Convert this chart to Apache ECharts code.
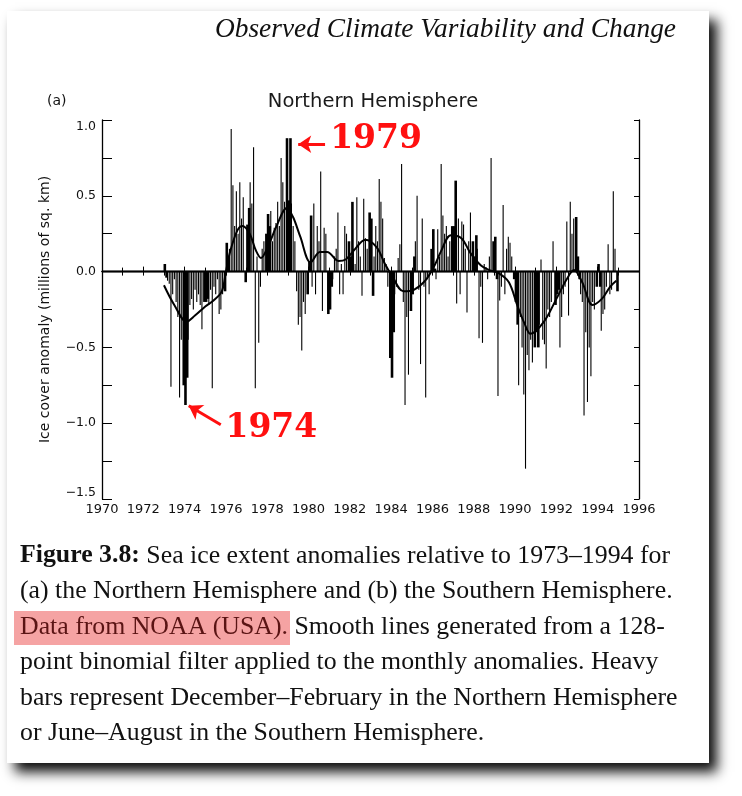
<!DOCTYPE html>
<html><head><meta charset="utf-8">
<script src="https://cdn.jsdelivr.net/npm/echarts/dist/echarts.min.js"></script>
<style>html,body{margin:0;padding:0;background:#fff}#c{width:742px;height:796px}</style>
</head><body><div id="c"></div>
<script>
// ---- Data (millions of sq. km) ----
const nh1973 = [0.05, -0.04, -0.06, -0.08, -0.76, -0.15, -0.05, -0.20, -0.30, -0.83, -0.45, -0.75];
const nh1974 = [-0.88, -0.70, -0.45, -0.22, -0.18, -0.25, -0.12, -0.20, -0.15, -0.22, -0.38, -0.20];
const nh1975 = [-0.20, -0.18, -0.22, -0.12, -0.77, -0.10, -0.15, -0.05, -0.28, -0.25, -0.15, -0.13];
const nh1976 = [0.19, 0.07, 0.15, 0.94, 0.57, 0.30, 0.53, 0.25, 0.59, 0.35, 0.49, -0.07];
const nh1977 = [0.31, 0.42, 0.59, 0.45, 0.82, -0.77, 0.10, -0.47, -0.10, 0.15, 0.20, 0.25];
const nh1978 = [0.38, 0.30, 0.40, 0.20, 0.29, 0.32, 0.46, 0.30, 0.75, 0.59, 0.46, 0.88];
const nh1979 = [0.47, 0.88, 0.45, 0.30, 0.20, -0.13, -0.35, -0.30, -0.52, -0.20, -0.28, -0.15];
const nh1980 = [0.07, 0.37, -0.10, 0.45, -0.15, 0.30, 0.20, 0.66, -0.26, 0.29, 0.25, -0.28];
const nh1981 = [-0.25, -0.10, -0.05, 0.10, 0.15, 0.39, -0.15, 0.05, -0.15, 0.30, 0.25, 0.20];
const nh1982 = [0.10, 0.46, 0.15, 0.05, 0.49, 0.20, 0.10, -0.16, 0.48, 0.22, 0.15, 0.39];
const nh1983 = [0.35, -0.16, 0.10, 0.30, 0.20, 0.61, 0.46, 0.35, 0.09, 0.05, -0.10, -0.57];
const nh1984 = [-0.70, -0.40, -0.15, -0.10, 0.09, 0.18, 0.71, -0.20, -0.88, -0.30, -0.68, -0.26];
const nh1985 = [-0.15, 0.10, 0.20, 0.50, -0.12, -0.61, 0.35, -0.10, -0.83, -0.05, -0.15, 0.15];
const nh1986 = [0.28, 0.02, -0.05, 0.28, 0.10, 0.71, 0.37, 0.25, 0.30, 0.10, 0.20, 0.30];
const nh1987 = [0.30, 0.60, -0.21, 0.35, -0.15, 0.33, 0.31, 0.15, -0.27, 0.20, 0.39, 0.20];
const nh1988 = [0.10, 0.24, 0.15, -0.44, -0.10, -0.47, 0.05, 0.03, -0.05, 0.10, 0.75, 0.20];
const nh1989 = [0.23, -0.05, -0.82, -0.19, -0.10, 0.44, -0.15, 0.15, 0.23, 0.19, 0.10, -0.05];
const nh1990 = [-0.20, -0.35, -0.75, -0.30, -0.50, -0.81, -1.30, -0.55, -0.65, -0.45, -0.60, -0.50];
const nh1991 = [-0.40, -0.50, -0.35, 0.08, -0.45, -0.48, -0.64, -0.25, -0.30, -0.20, 0.20, -0.22];
const nh1992 = [-0.15, -0.12, -0.50, -0.30, -0.15, -0.10, 0.33, -0.29, 0.46, 0.25, 0.35, 0.36];
const nh1993 = [0.10, -0.05, -0.15, -0.20, -0.95, -0.40, -0.86, -0.50, -0.69, -0.20, -0.25, -0.10];
const nh1994 = [0.05, -0.10, -0.39, -0.28, -0.25, -0.10, 0.18, -0.15, -0.12, 0.53, 0.15, -0.13];
const dataYears = [1973,1974,1975,1976,1977,1978,1979,1980,1981,1982,1983,1984,1985,1986,1987,1988,1989,1990,1991,1992,1993,1994];
const monthly = [nh1973,nh1974,nh1975,nh1976,nh1977,nh1978,nh1979,nh1980,nh1981,nh1982,nh1983,nh1984,nh1985,nh1986,nh1987,nh1988,nh1989,nh1990,nh1991,nh1992,nh1993,nh1994];

// smooth (128-point binomial filter) curve
const smoothYear  = [1973.0,1973.5,1974.1,1974.5,1975.0,1975.4,1975.8,1976.0,1976.2,1976.55,1976.8,1977.15,1977.45,1977.7,1978.05,1978.45,1978.95,1979.25,1979.6,1980.1,1980.55,1980.9,1981.45,1981.8,1982.2,1982.75,1983.3,1983.7,1984.05,1984.6,1985.1,1985.65,1986.1,1986.4,1986.9,1987.4,1987.85,1988.35,1988.75,1989.2,1989.7,1990.1,1990.45,1990.75,1991.4,1992.0,1992.5,1992.85,1993.25,1993.75,1994.2,1994.6,1994.9];
const smoothValue = [-0.09,-0.22,-0.33,-0.29,-0.23,-0.19,-0.13,0.0,0.13,0.27,0.30,0.25,0.14,0.09,0.17,0.30,0.42,0.36,0.23,0.06,0.13,0.13,0.07,0.08,0.14,0.21,0.16,0.05,-0.03,-0.13,-0.12,-0.06,0.04,0.13,0.24,0.22,0.12,0.04,0.01,-0.01,-0.07,-0.22,-0.34,-0.41,-0.33,-0.18,-0.05,0.01,-0.07,-0.22,-0.18,-0.10,-0.06];

const xMin = 1970, xMax = 1996, xLabelStep = 2;
const yMin = -1.5, yMax = 1.0, yLabelStep = 0.5;

// ---- build series data ----
const thin = [], heavy = [];
dataYears.forEach((yr, i) => {
  monthly[i].forEach((v, m) => {
    const pt = [yr + (m + 0.5) / 12, v];
    if (m === 11 || m === 0 || m === 1) heavy.push(pt); else thin.push(pt);
  });
});
const smooth = smoothYear.map((x, i) => [x, smoothValue[i]]);

const chart = echarts.init(document.getElementById('c'), null, {renderer: 'canvas'});
const sans = 'DejaVu Sans';
const serif = 'Liberation Serif';
const fmtY = v => (v < 0 ? '\u2212' : '') + Math.abs(v).toFixed(1);

chart.setOption({
  animation: false,
  backgroundColor: '#ffffff',
  grid: {left: 102, right: 103, top: 120, bottom: 297, show: false},
  xAxis: [{
    type: 'value', min: xMin, max: xMax, interval: xLabelStep, position: 'bottom',
    axisLine: {lineStyle: {color: '#000', width: 1.3}},
    axisTick: {inside: true, length: 5, lineStyle: {color: '#000', width: 1}},
    minorTick: {show: true, splitNumber: 2, length: 4, lineStyle: {color: '#000', width: 1}},
    axisLabel: {color: '#111', fontFamily: sans, fontSize: 13, margin: 4, formatter: v => String(v)},
    splitLine: {show: false}
  }, {
    type: 'value', min: xMin, max: xMax, interval: 1, position: 'top',
    axisLine: {lineStyle: {color: '#000', width: 1.3}},
    axisTick: {inside: true, length: 4, lineStyle: {color: '#000', width: 1}},
    axisLabel: {show: false}, splitLine: {show: false}
  }],
  yAxis: [{
    type: 'value', min: yMin, max: yMax, interval: yLabelStep, position: 'left',
    name: 'Ice cover anomaly (millions of sq. km)', nameLocation: 'middle', nameGap: 50,
    nameTextStyle: {color: '#111', fontFamily: sans, fontSize: 14},
    axisLine: {show: true, lineStyle: {color: '#000', width: 1.3}},
    axisTick: {show: true, inside: true, length: 10, lineStyle: {color: '#000', width: 1}},
    minorTick: {show: true, splitNumber: 2, length: 10, lineStyle: {color: '#000', width: 1}},
    axisLabel: {color: '#111', fontFamily: sans, fontSize: 12.5, margin: 6, formatter: fmtY,
      verticalAlignMaxLabel: 'top', verticalAlignMinLabel: 'bottom'},
    splitLine: {show: false}
  }, {
    type: 'value', min: yMin, max: yMax, interval: yLabelStep, position: 'right',
    axisLine: {show: true, lineStyle: {color: '#000', width: 1.3}},
    axisTick: {show: true, inside: true, length: 5, lineStyle: {color: '#000', width: 1}},
    minorTick: {show: true, splitNumber: 2, length: 5, lineStyle: {color: '#000', width: 1}},
    axisLabel: {show: false}, splitLine: {show: false}
  }],
  series: [{
    name: 'monthly', type: 'bar', xAxisIndex: 0, yAxisIndex: 0, data: thin,
    barWidth: 1.1, barGap: '-100%', itemStyle: {color: '#000'}, silent: true, z: 3,
    markLine: {silent: true, symbol: 'none', label: {show: false},
      lineStyle: {color: '#000', width: 1.3, type: 'solid'}, data: [{yAxis: 0}]}
  }, {
    name: 'DJF', type: 'bar', xAxisIndex: 0, yAxisIndex: 0, data: heavy,
    barWidth: 2.6, barGap: '-100%', itemStyle: {color: '#000'}, silent: true, z: 3
  }, {
    name: 'smooth', type: 'line', xAxisIndex: 0, yAxisIndex: 0, data: smooth,
    smooth: 0.35, showSymbol: false, symbol: 'none', silent: true, z: 4,
    lineStyle: {color: '#000', width: 2},
    markLine: {
      silent: true, symbol: ['none', 'arrow'], symbolSize: [13, 13], label: {show: false},
      lineStyle: {color: '#ff1010', width: 3, type: 'solid'},
      data: [
        [{coord: [1980.8, 0.84]}, {coord: [1979.5, 0.84]}],
        [{coord: [1975.75, -1.01]}, {coord: [1974.2, -0.885]}]
      ]
    },
    markPoint: {
      silent: true, symbol: 'circle', symbolSize: 0,
      label: {show: true, position: 'inside', formatter: p => p.name, color: '#ff1010',
        fontFamily: 'DejaVu Serif', fontWeight: 'bold', fontSize: 33},
      data: [{name: '1979', coord: [1983.27, 0.875]}, {name: '1974', coord: [1978.2, -1.035]}]
    }
  }],
  graphic: [
    {type: 'rect', z: -100, shape: {x: 7, y: 11, width: 702, height: 752},
      style: {fill: '#fff', shadowBlur: 12, shadowOffsetX: 8, shadowOffsetY: 9, shadowColor: 'rgba(0,0,0,0.95)'}},
    {type: 'text', z: 10, style: {x: 676, y: 30, text: 'Observed Climate Variability and Change',
      textAlign: 'right', textVerticalAlign: 'middle', fill: '#111',
      font: 'italic 27.4px "Liberation Serif"'}},
    {type: 'text', z: 10, style: {x: 47, y: 101, text: '(a)', textAlign: 'left', textVerticalAlign: 'middle',
      fill: '#111', font: '14px "DejaVu Sans"'}},
    {type: 'text', z: 10, style: {x: 373, y: 102, text: 'Northern Hemisphere', textAlign: 'center', textVerticalAlign: 'middle',
      fill: '#1a1a1a', font: '19.5px "DejaVu Sans"'}},
    {type: 'rect', z: 5, shape: {x: 14, y: 611, width: 276, height: 34}, style: {fill: '#f5a3a3'}},
    {type: 'text', z: 10, x: 20, y: 538, style: {x: 0, y: 0,
      text: '{b|Figure 3.8:} Sea ice extent anomalies relative to 1973\u20131994 for\n' +
            '(a) the Northern Hemisphere and (b) the Southern Hemisphere.\n' +
            '{h|Data from NOAA (USA).} Smooth lines generated from a 128-\n' +
            'point binomial filter applied to the monthly anomalies. Heavy\n' +
            'bars represent December\u2013February in the Northern Hemisphere\n' +
            'or June\u2013August in the Southern Hemisphere.',
      textAlign: 'left', textVerticalAlign: 'top', fill: '#111',
      fontFamily: serif, fontSize: 25.8, lineHeight: 35.5,
      rich: {
        b: {fontFamily: serif, fontSize: 25.8, fontWeight: 'bold', lineHeight: 35.5, fill: '#111'},
        h: {fontFamily: serif, fontSize: 25.8, lineHeight: 35.5, fill: '#5a1414'}
      }}}
  ]
});
</script></body></html>
